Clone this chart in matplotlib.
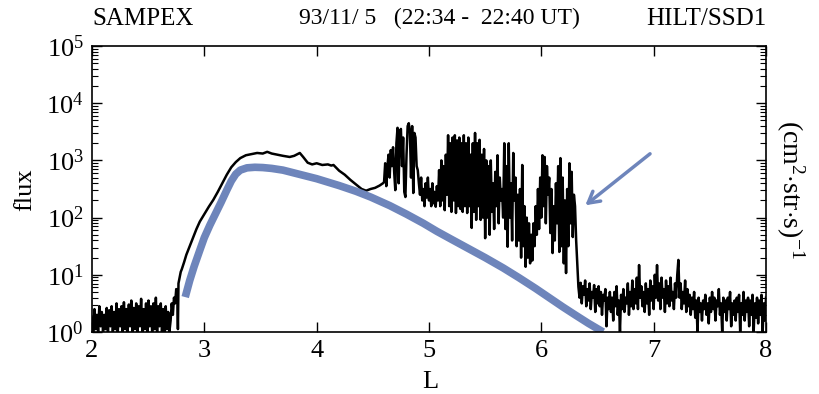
import numpy as np
import matplotlib
matplotlib.use("Agg")
import matplotlib.pyplot as plt
from matplotlib.ticker import LogLocator, NullFormatter

plt.rcParams["font.family"] = ["Liberation Serif", "DejaVu Serif"]
plt.rcParams["mathtext.fontset"] = "custom"
plt.rcParams["mathtext.rm"] = "Liberation Serif"
plt.rcParams["mathtext.it"] = "Liberation Serif:italic"

# --- data (log10 of flux) ---
# quiet floor before the belt, uniform sampling from L 2.00 up to 2.70
floor_start, floor_stop = 2.00, 2.70
floor_log = [0.25, 0.0, 0.4, 0.05, 0.3, 0.0, 0.45, 0.1, 0.35, 0.0, 0.3, 0.05, 0.42, 0.0, 0.38, 0.1,
             0.45, 0.0, 0.35, 0.05, 0.5, 0.0, 0.4, 0.1, 0.45, 0.0, 0.52, 0.05, 0.4, 0.0, 0.48, 0.1,
             0.55, 0.0, 0.42, 0.05, 0.5, 0.0, 0.45, 0.1, 0.58, 0.0, 0.4, 0.05, 0.5, 0.0, 0.55, 0.1,
             0.45, 0.0, 0.5, 0.05, 0.6, 0.0, 0.45, 0.1, 0.5, 0.0, 0.4, 0.0, 0.45, 0.05, 0.35, 0.0]

# smooth part of the trace
smooth_L = [2.70, 2.71, 2.72, 2.73, 2.74, 2.75, 2.76, 2.765, 2.77, 2.78, 2.79, 2.80, 2.82, 2.84,
            2.87, 2.90, 2.93, 2.96, 3.00, 3.04, 3.08, 3.12, 3.16, 3.20, 3.24, 3.28, 3.32, 3.37,
            3.42, 3.47, 3.52, 3.56, 3.60, 3.65, 3.70, 3.76, 3.80, 3.85, 3.88, 3.92, 3.96, 4.00,
            4.05, 4.10, 4.13, 4.15, 4.20, 4.25, 4.30, 4.35, 4.40, 4.44, 4.48, 4.52, 4.56, 4.59]
smooth_log = [0.2, 0.5, 0.3, 0.6, 0.5, 0.75, 0.6, 0.05, 0.85, 0.95, 1.05, 1.1, 1.22, 1.35,
              1.5, 1.65, 1.8, 1.93, 2.06, 2.19, 2.31, 2.45, 2.6, 2.75, 2.88, 2.97, 3.04, 3.09,
              3.11, 3.13, 3.12, 3.15, 3.12, 3.1, 3.08, 3.06, 3.08, 3.13, 3.06, 2.96, 2.93, 2.95,
              2.92, 2.93, 2.91, 2.92, 2.82, 2.75, 2.66, 2.58, 2.5, 2.47, 2.5, 2.52, 2.56, 2.6]

# microburst / spiky region, L 4.60 .. 6.32
spiky_start, spiky_stop = 4.60, 6.32
spiky_log = [2.62, 2.95, 2.55, 2.9, 3.1, 2.7, 3.18, 2.9, 3.23, 2.8,
             2.48, 3.3, 3.57, 2.6, 3.5, 3.55, 2.9, 3.4, 2.45, 2.36,
             3.1, 3.6, 3.65, 3.5, 2.7, 3.6, 2.43, 3.48, 3.4, 2.9,
             2.83, 2.6, 2.4, 2.7, 2.3, 2.5, 2.2, 2.6, 2.35, 2.7,
             2.3, 2.5, 2.2, 2.6, 2.25, 2.45, 2.19, 2.55, 2.3, 2.83,
             2.2, 3.0, 2.3, 2.9, 2.13, 3.1, 2.4, 3.44, 2.2, 3.3,
             2.1, 3.4, 2.3, 3.44, 2.08, 3.35, 2.2, 3.4, 2.15, 3.3,
             2.1, 3.44, 2.2, 3.3, 2.08, 3.4, 2.2, 3.1, 1.82, 3.3,
             2.1, 3.48, 1.96, 3.3, 2.2, 3.36, 1.96, 3.1, 2.0, 3.2,
             1.64, 3.0, 2.0, 2.9, 1.7, 3.0, 2.1, 2.6, 1.8, 2.8,
             2.2, 3.09, 1.9, 2.7, 2.3, 2.5, 2.0, 3.3, 1.8, 2.9,
             1.49, 3.3, 2.0, 2.6, 1.6, 3.13, 2.3, 2.7, 1.5, 2.4,
             1.6, 2.5, 1.3, 2.92, 1.5, 2.2, 1.14, 2.0, 1.3, 1.9,
             1.2, 1.7, 1.25, 1.9, 1.5, 2.2, 1.7, 2.5, 1.8, 2.7,
             2.0, 3.09, 2.2, 3.06, 1.9, 2.9, 2.4, 2.7, 1.73, 2.5,
             1.38, 2.2, 1.6, 2.6, 1.9, 2.9, 1.4, 3.04, 1.5, 2.7,
             1.2, 2.3, 1.03, 2.5, 1.5, 2.95, 1.9, 2.8, 1.66, 2.4,
             2.2, 1.6, 1.2]

# background after the drop, L 6.33 .. 8.00
tail_start, tail_stop = 6.33, 8.00
tail_log = [0.79, 0.6, 0.86, 0.5, 0.8, 0.65, 0.9, 0.45, 0.75, 0.55,
            0.85, 0.4, 0.7, 0.6, 0.82, 0.35, 0.75, 0.5, 0.8, 0.45,
            0.7, 0.3, 0.65, 0.55, 0.75, 0.1, 0.6, 0.4, 0.7, 0.35,
            0.6, 0.2, 0.7, 0.45, 0.8, 0.3, 0.55, 0.0, 0.65, 0.4,
            0.75, 0.35, 0.6, 0.5, 0.85, 0.3, 0.7, 0.45, 0.9, 0.4,
            0.75, 0.5, 0.95, 0.4, 1.17, 0.6, 0.8, 0.45, 0.7, 0.35,
            0.85, 0.5, 0.75, 0.3, 0.9, 0.55, 0.8, 0.4, 1.0, 0.6,
            1.17, 0.55, 0.85, 0.4, 0.95, 0.6, 0.75, 0.35, 0.9, 0.5,
            0.8, 0.45, 0.95, 0.55, 0.7, 0.4, 0.85, 0.6, 1.0, 1.26,
            0.6, 0.85, 0.4, 0.7, 0.5, 0.9, 0.35, 0.75, 0.45, 0.65,
            0.3, 0.6, 0.4, 0.7, 0.25, 0.55, 0.0, 0.6, 0.35, 0.5,
            0.2, 0.55, 0.4, 0.65, 0.3, 0.5, 0.15, 0.6, 0.35, 0.7,
            0.4, 0.6, 0.2, 0.55, 0.45, 0.75, 0.3, 0.5, 0.0, 0.6,
            0.35, 0.55, 0.2, 0.6, 0.4, 0.7, 0.1, 0.5, 0.3, 0.55,
            0.2, 0.6, 0.35, 0.65, 0.0, 0.5, 0.3, 0.7, 0.2, 0.55,
            0.35, 0.6, 0.1, 0.55, 0.3, 0.65, 0.0, 0.5, 0.25, 0.6,
            0.15, 0.55, 0.3, 0.65, 0.0, 0.5, 0.2, 0.6]

# model curve (blue)
model_L = [2.83, 2.87, 2.91, 2.96, 3.00, 3.05, 3.10, 3.15, 3.20, 3.24, 3.28, 3.32, 3.38,
           3.45, 3.52, 3.60, 3.70, 3.80, 3.90, 4.00, 4.10, 4.20, 4.35, 4.48, 4.65, 4.80,
           4.95, 5.07, 5.20, 5.35, 5.50, 5.66, 5.80, 5.95, 6.07, 6.19, 6.30, 6.42, 6.55]
model_log = [0.61, 0.9, 1.15, 1.43, 1.65, 1.87, 2.07, 2.27, 2.48, 2.64, 2.76, 2.83, 2.87,
             2.88, 2.875, 2.86, 2.83, 2.78, 2.73, 2.68, 2.62, 2.56, 2.46, 2.36, 2.21, 2.06,
             1.9, 1.76, 1.62, 1.46, 1.3, 1.12, 0.95, 0.76, 0.6, 0.44, 0.3, 0.15, 0.0]

BLUE = "#6e85bb"


def main():
    floor_L = np.linspace(floor_start, floor_stop, len(floor_log), endpoint=False)
    spiky_L = np.linspace(spiky_start, spiky_stop, len(spiky_log))
    tail_L = np.linspace(tail_start, tail_stop, len(tail_log))

    L = np.concatenate([floor_L, smooth_L, spiky_L, tail_L])
    flux = 10 ** np.concatenate([floor_log, smooth_log, spiky_log, tail_log])

    fig = plt.figure(figsize=(8.19, 3.94), dpi=100)
    ax = fig.add_axes([0.1123, 0.1574, 0.8230, 0.7258])

    ax.plot(L, flux, color="black", lw=1.8)
    ax.plot(model_L, 10 ** np.array(model_log), color=BLUE, lw=5.5, solid_capstyle="butt")

    ax.set_yscale("log")
    ax.set_xlim(2, 8)
    ax.set_ylim(1, 1e5)
    ax.set_xticks(range(2, 9))
    ax.yaxis.set_major_locator(LogLocator(base=10, numticks=10))
    ax.yaxis.set_minor_locator(LogLocator(base=10, subs=np.arange(2, 10), numticks=20))
    ax.yaxis.set_minor_formatter(NullFormatter())
    ax.tick_params(axis="both", which="major", direction="in", top=True, right=True,
                   length=7, width=1.0, labelsize=19, pad=6)
    ax.tick_params(axis="y", which="minor", direction="in", left=True, right=True,
                   length=4, width=0.8)
    for sp in ax.spines.values():
        sp.set_linewidth(1.2)

    fig.text(430 / 819, 12 / 394, "L", ha="center", va="center", fontsize=19)
    fig.text(25 / 819, 1 - 190 / 394, "flux", rotation=90, ha="center", va="center", fontsize=19)
    fig.text(790 / 819, 0.52, r"(cm$^{2}$$\cdot$str$\cdot$s)$^{-1}$", rotation=-90,
             ha="center", va="center", fontsize=20)

    fig.text(0.1123, 0.953, "SAMPEX", ha="left", va="center", fontsize=18)
    fig.text(0.537, 0.953, "93/11/ 5   (22:34 -  22:40 UT)", ha="center", va="center", fontsize=17)
    fig.text(0.9353, 0.953, "HILT/SSD1", ha="right", va="center", fontsize=18)

    ax.annotate("", xy=(6.372, 153), xytext=(6.987, 1400),
                arrowprops=dict(arrowstyle="->,head_length=0.8,head_width=0.45",
                                color=BLUE, lw=2.5))

    fig.savefig("out.png", dpi=100)
    plt.close(fig)


if __name__ == "__main__":
    main()
